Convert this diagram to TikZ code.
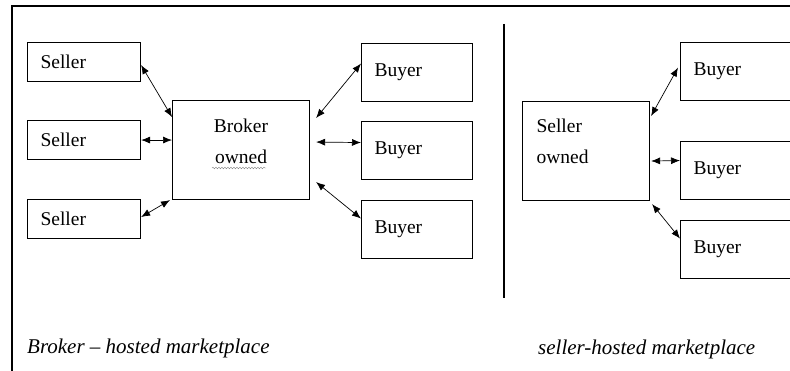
\documentclass[tikz,border=0pt]{standalone}
\usepackage{fontspec}
\setmainfont{Liberation Serif}
\usetikzlibrary{arrows.meta}
\usetikzlibrary{positioning}
\usetikzlibrary{decorations.pathmorphing}

\begin{document}
\begin{tikzpicture}[
        x=1pt, y=-1pt,
        font=\fontsize{19.5pt}{31pt}\selectfont,
        % Style for the small boxes (sellers and buyers)
        partybox/.style={rectangle, draw, line width=1.1pt, align=left, inner xsep=13pt, inner ysep=0pt, anchor=north west},
        sellerbox/.style={partybox, text width=87pt, minimum height=39pt},
        buyerbox/.style={partybox, text width=85pt, minimum height=58pt},
        widebuyerbox/.style={partybox, text width=104pt, minimum height=58pt},
        % Style for the two owner boxes
        ownerbox/.style={rectangle, draw, line width=1.1pt, inner ysep=0pt, anchor=north west, minimum height=99pt},
        % Double arrows
        link/.style={{Latex[length=9pt,width=7pt]}-{Latex[length=9pt,width=7pt]}, line width=0.7pt},
        % Captions at the bottom
        caption/.style={font=\fontsize{21pt}{25pt}\selectfont\itshape, anchor=base west, inner sep=0pt}
    ]

    \useasboundingbox (0,0) rectangle (790,371);
    \clip (0,0) rectangle (790,371);

    % --- 1. FRAME AND DIVIDER ---
    \draw[line width=1.2pt] (12,371) -- (12,6) -- (790,6);
    \draw[line width=2.6pt] (504,24) -- (504,298);

    % --- 2. BROKER-HOSTED SIDE ---
    \node[sellerbox] (S1) at (27,42) {Seller};
    \node[sellerbox] (S2) at (27,120) {Seller};
    \node[sellerbox] (S3) at (27,199) {Seller};

    \node[ownerbox, minimum width=137pt, text width=111pt, align=center, text depth=48pt] (Broker) at (172,100) {Broker\\owned};
    \draw[gray, line width=0.4pt, decorate, decoration={snake, amplitude=0.8pt, segment length=3pt}] (212,168) -- (266,168);

    \node[buyerbox] (B1) at (361,43) {Buyer};
    \node[buyerbox] (B2) at (361,121) {Buyer};
    \node[buyerbox] (B3) at (361,200) {Buyer};

    \draw[link] ([yshift=-3pt]S1.east) -- ([yshift=33pt]Broker.west);
    \draw[link] (S2.east) -- (S2.east -| Broker.west);
    \draw[link] ([yshift=2pt]S3.east) -- ([xshift=-2pt]Broker.south west);

    \draw[link] ([xshift=6pt,yshift=32pt]Broker.east) -- ([yshift=9pt]B1.west);
    \draw[link] ([xshift=6pt,yshift=8pt]Broker.east) -- ([yshift=8pt]B2.west);
    \draw[link] ([xshift=6pt,yshift=-32pt]Broker.east) -- ([yshift=11pt]B3.west);

    % --- 3. SELLER-HOSTED SIDE ---
    \node[ownerbox, minimum width=127pt, text width=99pt, inner xsep=14pt, align=left, text depth=51pt] (SellerOwned) at (522,101) {Seller\\owned};

    \node[widebuyerbox] (R1) at (680,42) {Buyer};
    \node[widebuyerbox] (R2) at (680,141) {Buyer};
    \node[widebuyerbox] (R3) at (680,220) {Buyer};

    \draw[link] ([xshift=1pt,yshift=35pt]SellerOwned.east) -- ([xshift=-2pt,yshift=4pt]R1.west);
    \draw[link] ([xshift=1pt,yshift=-10pt]SellerOwned.east) -- ([yshift=10pt]R2.west);
    \draw[link] ([xshift=2pt,yshift=-3pt]SellerOwned.south east) -- ([yshift=11pt]R3.west);

    % --- 4. CAPTIONS ---
    \node[caption] (BrokerCaption) at (27,353) {Broker \textendash{} hosted marketplace};
    \node[caption] (SellerCaption) at (538,355) {seller-hosted marketplace};

\end{tikzpicture}
\end{document}
